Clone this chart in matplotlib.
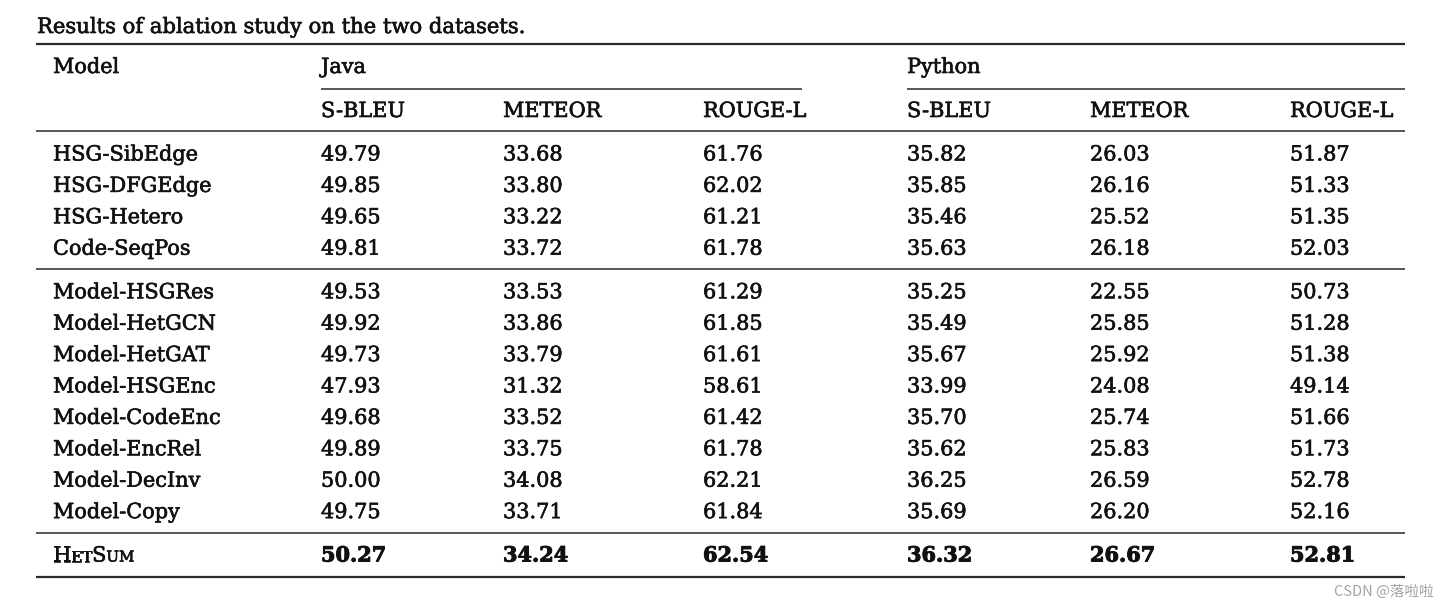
import matplotlib
matplotlib.use("Agg")
import matplotlib.pyplot as plt
import matplotlib.patheffects as pe

# ---- table content ----
caption = "Results of ablation study on the two datasets."
datasets = ["Java", "Python"]
metrics = ["S-BLEU", "METEOR", "ROUGE-L"]

group1_models = ["HSG-SibEdge", "HSG-DFGEdge", "HSG-Hetero", "Code-SeqPos"]
group1_java = [[49.79, 33.68, 61.76], [49.85, 33.80, 62.02],
               [49.65, 33.22, 61.21], [49.81, 33.72, 61.78]]
group1_python = [[35.82, 26.03, 51.87], [35.85, 26.16, 51.33],
                 [35.46, 25.52, 51.35], [35.63, 26.18, 52.03]]

group2_models = ["Model-HSGRes", "Model-HetGCN", "Model-HetGAT", "Model-HSGEnc",
                 "Model-CodeEnc", "Model-EncRel", "Model-DecInv", "Model-Copy"]
group2_java = [[49.53, 33.53, 61.29], [49.92, 33.86, 61.85], [49.73, 33.79, 61.61],
               [47.93, 31.32, 58.61], [49.68, 33.52, 61.42], [49.89, 33.75, 61.78],
               [50.00, 34.08, 62.21], [49.75, 33.71, 61.84]]
group2_python = [[35.25, 22.55, 50.73], [35.49, 25.85, 51.28], [35.67, 25.92, 51.38],
                 [33.99, 24.08, 49.14], [35.70, 25.74, 51.66], [35.62, 25.83, 51.73],
                 [36.25, 26.59, 52.78], [35.69, 26.20, 52.16]]

# small-caps name as (text, is_capital) parts
ours_parts = [("H", True), ("ET", False), ("S", True), ("UM", False)]
ours_java = [50.27, 34.24, 62.54]
ours_python = [36.32, 26.67, 52.81]

watermark = "CSDN @落啦啦"

# ---- layout (pixel space) ----
W, H = 1450, 610
FONT = "DejaVu Serif"
FS = 15
INK = "#111111"
RULE = "#2a2a2a"
model_x = 53
col_x = [321, 503, 703, 907, 1090, 1290]
table_left, table_right = 36, 1405
java_span = (321, 802)
python_span = (907, 1405)
row_step = 31.4

fig = plt.figure(figsize=(W / 100, H / 100), dpi=100)
ax = fig.add_axes([0, 0, 1, 1])
ax.set_xlim(0, W)
ax.set_ylim(H, 0)
ax.axis("off")

# the source font prints darker than DejaVu Serif, so give glyphs a thin outline
heavier = [pe.withStroke(linewidth=0.45, foreground=INK)]
heavier_bold = [pe.withStroke(linewidth=0.7, foreground=INK)]


def put(x, y, s, bold=False, size=FS):
    return ax.text(x, y, s, family=FONT, fontsize=size, color=INK,
                   fontweight="bold" if bold else "normal",
                   ha="left", va="baseline",
                   path_effects=heavier_bold if bold else heavier)


# caption
put(37, 33, caption, size=15.2)

# rules
ax.hlines(44, table_left, table_right, color=RULE, lw=1.6)
ax.hlines(88.5, *java_span, color=RULE, lw=1.1)
ax.hlines(88.5, *python_span, color=RULE, lw=1.1)
ax.hlines(131, table_left, table_right, color=RULE, lw=1.1)
ax.hlines(268.5, table_left, table_right, color=RULE, lw=1.1)
ax.hlines(533, table_left, table_right, color=RULE, lw=1.1)
ax.hlines(577, table_left, table_right, color=RULE, lw=1.6)

# headers
put(model_x, 73, "Model")
put(java_span[0], 73, datasets[0])
put(python_span[0], 73, datasets[1])
for i, m in enumerate(metrics + metrics):
    put(col_x[i], 117, m)


def draw_rows(names, java, python, y0):
    for k, name in enumerate(names):
        y = y0 + k * row_step
        put(model_x, y, name)
        vals = java[k] + python[k]
        for i, v in enumerate(vals):
            put(col_x[i], y, f"{v:.2f}")


draw_rows(group1_models, group1_java, group1_python, 160.5)
draw_rows(group2_models, group2_java, group2_python, 298.3)

# final row: small caps name + bold numbers
y_ours = 561.5
fig.canvas.draw()
renderer = fig.canvas.get_renderer()
x = model_x
for txt, cap in ours_parts:
    t = put(x, y_ours, txt, size=FS if cap else FS * 0.72)
    bb = t.get_window_extent(renderer)
    x += bb.width
for i, v in enumerate(ours_java + ours_python):
    put(col_x[i], y_ours, f"{v:.2f}", bold=True)

ax.text(1434, 592, watermark, family=["Noto Sans CJK SC", "DejaVu Sans"],
        fontsize=10.5, color="#a3a3a3", ha="right", va="center")

fig.savefig("out.png", dpi=100)
